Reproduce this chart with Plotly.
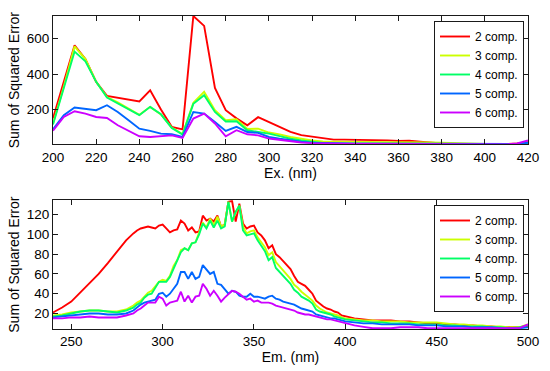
import plotly.graph_objects as go

# ---------------- Top panel: excitation ----------------
ex_nm = [200, 205, 210, 215, 220, 225, 230, 235, 240, 245, 250, 255, 260, 265, 270,
         275, 280, 285, 290, 295, 300, 305, 310, 315, 320, 325, 330, 335, 340, 345,
         350, 355, 360, 365, 370, 375, 380, 385, 390, 395, 400, 405, 410, 415, 420]

ex_c2 = [150, 355, 563, 485, 356, 277, 266, 253, 246, 308, 200, 102, 88, 728, 672,
         322, 196, 150, 111, 157, 130, 103, 74, 55, 46, 36, 30, 30, 30, 30,
         30, 26, 22, 24, 18, 12, 8, 6, 5, 5, 5, 5, 5, 8, 15]
ex_c3 = [120, 330, 557, 485, 356, 270, 240, 205, 170, 215, 172, 98, 62, 238, 300,
         196, 139, 145, 90, 92, 70, 60, 45, 35, 25, 20, 18, 18, 17, 17,
         17, 16, 16, 15, 14, 14, 12, 10, 6, 4, 4, 4, 4, 5, 10]
ex_c4 = [115, 320, 527, 472, 356, 268, 234, 202, 168, 215, 173, 96, 58, 232, 281,
         186, 132, 134, 83, 73, 64, 50, 35, 25, 18, 10, 4, 3, 3, 3,
         3, 3, 3, 3, 3, 3, 3, 3, 3, 3, 3, 3, 3, 4, 6]
ex_c5 = [88, 168, 211, 205, 196, 224, 186, 139, 92, 79, 64, 60, 45, 186, 177,
         130, 79, 102, 73, 68, 45, 35, 25, 18, 12, 10, 9, 8, 8, 8,
         8, 8, 8, 8, 8, 8, 8, 7, 7, 7, 7, 6, 5, 6, 12]
ex_c6 = [80, 158, 190, 177, 158, 152, 111, 79, 49, 45, 49, 54, 40, 149, 177,
         121, 49, 83, 60, 54, 36, 28, 20, 14, 10, 8, 7, 6, 6, 6,
         6, 5, 5, 5, 5, 5, 5, 4, 4, 4, 4, 3, 3, 8, 26]

# ---------------- Bottom panel: emission ----------------
em_nm = [240, 245, 250, 255, 260, 265, 270, 275, 280, 284, 286,
         288, 290, 292, 294, 296, 298, 300, 302, 304, 306, 308, 310, 312, 314, 316,
         318, 320, 322, 324, 326, 328, 330, 332, 334, 336, 338, 340, 342, 344, 346,
         348, 350, 352, 354, 356, 358, 360, 362, 364, 366, 368, 370, 372, 374, 376,
         378, 380, 382, 384, 386, 388, 390, 392, 394, 396, 398, 400,
         405, 410, 415, 420, 425, 430, 435, 440, 445, 450, 455, 460, 465, 470,
         475, 480, 485, 490, 495, 500]

em_c2 = [21, 26, 32, 41, 50, 60, 71, 82, 94, 101, 104,
         106, 107, 108, 107, 106, 109, 110, 106, 102, 104, 105, 114, 111, 104, 107,
         102, 103, 119, 114, 116, 113, 119, 108, 110, 133, 134, 113, 131, 111, 106,
         108, 109, 102, 99, 94, 86, 89, 80, 77, 73, 69, 65, 58, 52, 50,
         48, 44, 40, 33, 30, 27, 25, 24, 22, 21, 18, 17,
         15, 14, 13, 13, 13, 12, 12, 11, 10, 10, 9, 9, 8, 8,
         7, 7, 6, 6, 6, 7]
em_c3 = [18, 19, 21, 22, 23, 23, 22, 22, 24, 28, 31,
         33, 37, 41, 43, 47, 52, 54, 53, 58, 68, 74, 84, 86, 84, 91,
         92, 102, 112, 107, 116, 109, 118, 108, 110, 133, 113, 122, 129, 108, 101,
         103, 104, 97, 92, 87, 79, 82, 72, 68, 64, 59, 55, 49, 46, 42,
         39, 36, 33, 28, 25, 23, 21, 20, 19, 18, 16, 15,
         14, 13, 13, 12, 12, 12, 11, 11, 11, 11, 10, 9, 9, 8,
         8, 7, 7, 6, 6, 9]
em_c4 = [17, 18, 20, 22, 23, 23, 22, 21, 23, 26, 29,
         31, 36, 39, 40, 46, 52, 52, 52, 57, 66, 74, 82, 86, 84, 91,
         92, 100, 111, 106, 114, 107, 114, 106, 108, 133, 113, 123, 129, 104, 99,
         100, 101, 94, 88, 83, 74, 77, 66, 62, 58, 54, 50, 44, 41, 37,
         35, 33, 30, 24, 22, 21, 20, 19, 17, 16, 15, 14,
         13, 12, 11, 11, 10, 10, 10, 9, 9, 9, 8, 8, 7, 7,
         7, 6, 6, 5, 6, 8]
em_c5 = [16, 17, 18, 19, 20, 20, 19, 19, 20, 23, 26,
         29, 31, 32, 33, 34, 40, 41, 37, 40, 45, 50, 62, 62, 55, 62,
         55, 57, 69, 64, 60, 62, 50, 49, 44, 40, 43, 42, 38, 37, 37,
         40, 37, 37, 36, 35, 37, 38, 35, 34, 32, 31, 30, 29, 27, 25,
         24, 23, 22, 19, 18, 17, 16, 15, 15, 14, 13, 12,
         11, 10, 10, 9, 9, 9, 9, 8, 8, 8, 7, 7, 7, 6,
         6, 6, 5, 5, 5, 6]
em_c6 = [15, 15, 16, 16, 17, 16, 16, 16, 18, 20, 23,
         25, 28, 31, 31, 31, 37, 35, 28, 31, 32, 33, 42, 32, 38, 31,
         37, 38, 50, 45, 38, 43, 38, 32, 36, 40, 43, 42, 40, 37, 34,
         35, 32, 33, 31, 31, 31, 30, 28, 27, 26, 25, 24, 23, 21, 20,
         19, 19, 18, 17, 16, 15, 14, 14, 13, 12, 11, 10,
         8, 6.5, 5, 5, 5, 6, 6, 6, 5, 5, 5, 5, 5, 5,
         5, 5, 5, 5, 5, 9]

names = ["2 comp.", "3 comp.", "4 comp.", "5 comp.", "6 comp."]
colors = ["#FF0000", "#CCFF00", "#00FF66", "#0066FF", "#CC00FF"]

FONT = "Liberation Sans, Arial, sans-serif"
AX = "#1a1a1a"

fig = go.Figure()
for nm_, ys, c in zip(names, [ex_c2, ex_c3, ex_c4, ex_c5, ex_c6], colors):
    fig.add_trace(go.Scatter(x=ex_nm, y=ys, mode="lines", name=nm_,
                             line=dict(color=c, width=1.9),
                             xaxis="x", yaxis="y", legend="legend"))
for nm_, ys, c in zip(names, [em_c2, em_c3, em_c4, em_c5, em_c6], colors):
    fig.add_trace(go.Scatter(x=em_nm, y=ys, mode="lines", name=nm_,
                             line=dict(color=c, width=1.9),
                             xaxis="x2", yaxis="y2", legend="legend2"))

axis_common = dict(showline=True, linecolor=AX, linewidth=1, mirror="ticks",
                   ticks="inside", ticklen=5, tickcolor=AX, showgrid=False,
                   zeroline=False, automargin=False,
                   tickfont=dict(size=13.5, color="black", family=FONT))

xd = [53 / 550, 528 / 550]
fig.update_layout(
    template="none",
    width=550, height=371,
    margin=dict(l=0, r=0, t=0, b=0),
    paper_bgcolor="white", plot_bgcolor="white",
    font=dict(family=FONT, color="black"),
    xaxis=dict(domain=xd, range=[200, 420], tickvals=[200, 220, 240, 260, 280, 300, 320, 340, 360, 380, 400, 420],
               anchor="y", title=dict(text="Ex. (nm)", font=dict(size=14), standoff=2), **axis_common),
    yaxis=dict(domain=[1 - 144.4 / 371, 1 - 16 / 371], range=[3, 728], tickvals=[200, 400, 600],
               anchor="x", title=dict(text="Sum of Squared Error", font=dict(size=14), standoff=3), **axis_common),
    xaxis2=dict(domain=xd, range=[240, 500], tickvals=[250, 300, 350, 400, 450, 500],
                anchor="y2", title=dict(text="Em. (nm)", font=dict(size=14), standoff=2), **axis_common),
    yaxis2=dict(domain=[1 - 329 / 371, 1 - 200.3 / 371], range=[4.3, 134.5], tickvals=[20, 40, 60, 80, 100, 120],
                anchor="x2", title=dict(text="Sum of Squared Error", font=dict(size=14), standoff=3), **axis_common),
    legend=dict(x=524 / 550, y=1 - 21 / 371, xanchor="right", yanchor="top",
                bgcolor="white", bordercolor=AX, borderwidth=1,
                font=dict(size=12, family=FONT), itemwidth=30, tracegroupgap=0),
    legend2=dict(x=524 / 550, y=1 - 205 / 371, xanchor="right", yanchor="top",
                 bgcolor="white", bordercolor=AX, borderwidth=1,
                 font=dict(size=12, family=FONT), itemwidth=30, tracegroupgap=0),
)

fig.write_html("out.html", config={"displayModeBar": False},
               post_script="document.body.style.margin='0px';document.body.style.padding='0px';")
